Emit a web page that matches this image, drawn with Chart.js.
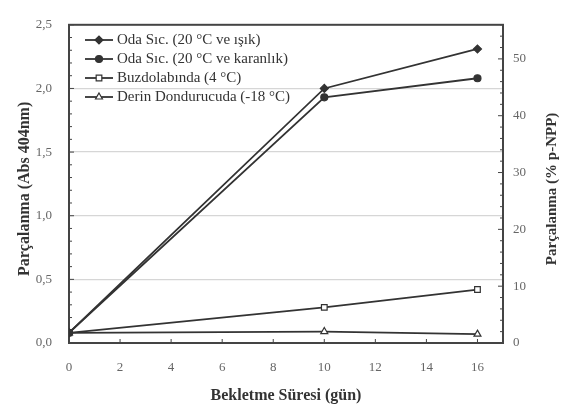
<!DOCTYPE html>
<html>
<head>
<meta charset="utf-8">
<script src="https://cdn.jsdelivr.net/npm/chart.js@4"></script>
<style>
  html, body { margin: 0; padding: 0; background: #fff; }
  #wrap { width: 567px; height: 406px; }
</style>
</head>
<body>
<div id="wrap"><canvas id="c" width="567" height="406"></canvas></div>
<script>
// values
const days = [0, 10, 16];
const isik = [0.08, 2.0, 2.31];
const karanlik = [0.08, 1.93, 2.08];
const buzdolabi = [0.08, 0.28, 0.42];
const derin = [0.08, 0.09, 0.07];
const seriesNames = [
  'Oda Sıc. (20 °C ve ışık)',
  'Oda Sıc. (20 °C ve karanlık)',
  'Buzdolabında (4 °C)',
  'Derin Dondurucuda (-18 °C)'
];
const xTicks = [0, 2, 4, 6, 8, 10, 12, 14, 16];
const leftTicks = [0, 0.5, 1.0, 1.5, 2.0, 2.5];
const rightTicks = [0, 10, 20, 30, 40, 50];

const ink = '#333';
const serif = '"Liberation Serif", "DejaVu Serif", serif';

function pts(ys) { return days.map((d, i) => ({ x: d, y: ys[i] })); }

const styles = [
  { pointStyle: 'rectRot', pointRadius: 4, pointBackgroundColor: ink },
  { pointStyle: 'circle', pointRadius: 3.5, pointBackgroundColor: ink },
  { pointStyle: 'rect', pointRadius: 4, pointBackgroundColor: '#fff' },
  { pointStyle: 'triangle', pointRadius: 4, pointBackgroundColor: '#fff' }
];

const datasets = [isik, karanlik, buzdolabi, derin].map((ys, i) => Object.assign({
  label: seriesNames[i],
  data: pts(ys),
  borderColor: ink,
  borderWidth: 1.8,
  pointBorderColor: ink,
  pointBorderWidth: 1.2,
  tension: 0,
  yAxisID: 'y'
}, styles[i]));

function keepOnly(list) {
  return function (scale) {
    scale.ticks = scale.ticks.filter(t => list.some(v => Math.abs(v - t.value) < 1e-6));
  };
}

function rotatedText(ctx, text, x, y, font) {
  ctx.save();
  ctx.translate(x, y);
  ctx.rotate(-Math.PI / 2);
  ctx.font = font;
  ctx.fillStyle = ink;
  ctx.textAlign = 'center';
  ctx.textBaseline = 'middle';
  ctx.fillText(text, 0, 0);
  ctx.restore();
}

// frame, inward tick marks, y titles and legend
const framePlugin = {
  id: 'frame',
  beforeDatasetsDraw(chart) {
    const { ctx, chartArea: a, scales } = chart;
    ctx.save();
    ctx.strokeStyle = '#444';
    ctx.lineWidth = 1;
    for (const v of xTicks) {
      const px = scales.x.getPixelForValue(v);
      ctx.beginPath(); ctx.moveTo(px, a.bottom); ctx.lineTo(px, a.bottom - 4); ctx.stroke();
    }
    for (let v = 0; v <= 2.5001; v += 0.1) {
      const py = scales.y.getPixelForValue(v);
      const major = Math.abs(v * 2 - Math.round(v * 2)) < 1e-6;
      ctx.beginPath(); ctx.moveTo(a.left, py); ctx.lineTo(a.left + (major ? 5 : 3), py); ctx.stroke();
    }
    for (let v = 0; v <= 56; v += 2) {
      const py = scales.y1.getPixelForValue(v);
      const major = v % 10 === 0;
      ctx.beginPath(); ctx.moveTo(a.right, py); ctx.lineTo(a.right - (major ? 5 : 3), py); ctx.stroke();
    }
    ctx.lineWidth = 2;
    ctx.strokeRect(a.left, a.top, a.right - a.left, a.bottom - a.top);
    ctx.restore();

    const mid = (a.top + a.bottom) / 2 + 5;
    rotatedText(ctx, 'Parçalanma (Abs 404nm)', 25, mid, 'bold 16px ' + serif);
    rotatedText(ctx, 'Parçalanma (% p-NPP)', 552, mid, 'bold 15px ' + serif);
  },
  afterDraw(chart) {
    const { ctx } = chart;
    const x0 = 85, x1 = 113, rows = [40, 59, 78, 97];
    ctx.save();
    chart.data.datasets.forEach((ds, i) => {
      const y = rows[i];
      ctx.strokeStyle = ink;
      ctx.lineWidth = 1.8;
      ctx.beginPath(); ctx.moveTo(x0, y); ctx.lineTo(x1, y); ctx.stroke();
      ctx.fillStyle = ds.pointBackgroundColor;
      ctx.lineWidth = 1.2;
      Chart.helpers.drawPoint(ctx, { pointStyle: ds.pointStyle, radius: ds.pointRadius, rotation: 0, borderWidth: 1.2 }, (x0 + x1) / 2, y);
      ctx.fillStyle = ink;
      ctx.font = '15px ' + serif;
      ctx.textBaseline = 'middle';
      ctx.fillText(ds.label, 117, y);
    });
    ctx.restore();
  }
};

new Chart(document.getElementById('c'), {
  type: 'line',
  data: { datasets },
  plugins: [framePlugin],
  options: {
    responsive: false,
    animation: false,
    layout: { padding: { top: 17, left: 0, right: 0, bottom: 0 } },
    plugins: { legend: { display: false }, tooltip: { enabled: false } },
    scales: {
      x: {
        type: 'linear',
        min: 0, max: 17,
        afterBuildTicks: keepOnly(xTicks),
        afterFit: s => { s.height = 63; },
        ticks: { stepSize: 2, color: '#666', font: { family: serif, size: 13 }, padding: 17, maxRotation: 0 },
        grid: { display: false, drawTicks: false },
        border: { display: false },
        title: { display: true, text: 'Bekletme Süresi (gün)', color: ink, font: { family: serif, size: 16, weight: 'bold' }, padding: { top: 6, bottom: 1 } }
      },
      y: {
        type: 'linear',
        position: 'left',
        min: 0, max: 2.5,
        afterBuildTicks: keepOnly(leftTicks),
        afterFit: s => { s.width = 69; },
        ticks: {
          stepSize: 0.5, color: '#666', font: { family: serif, size: 13 }, padding: 17,
          callback: v => v.toFixed(1).replace('.', ',')
        },
        grid: {
          drawTicks: false,
          color: ctx => (ctx.tick && ctx.tick.value > 0.01 && ctx.tick.value < 2.49) ? '#d6d6d6' : 'rgba(0,0,0,0)',
          lineWidth: 1.2
        },
        border: { display: false }
      },
      y1: {
        type: 'linear',
        position: 'right',
        min: 0, max: 56,
        afterBuildTicks: keepOnly(rightTicks),
        afterFit: s => { s.width = 64; },
        ticks: { stepSize: 10, color: '#666', font: { family: serif, size: 13 }, padding: 10 },
        grid: { display: false, drawTicks: false },
        border: { display: false }
      }
    }
  }
});
</script>
</body>
</html>
